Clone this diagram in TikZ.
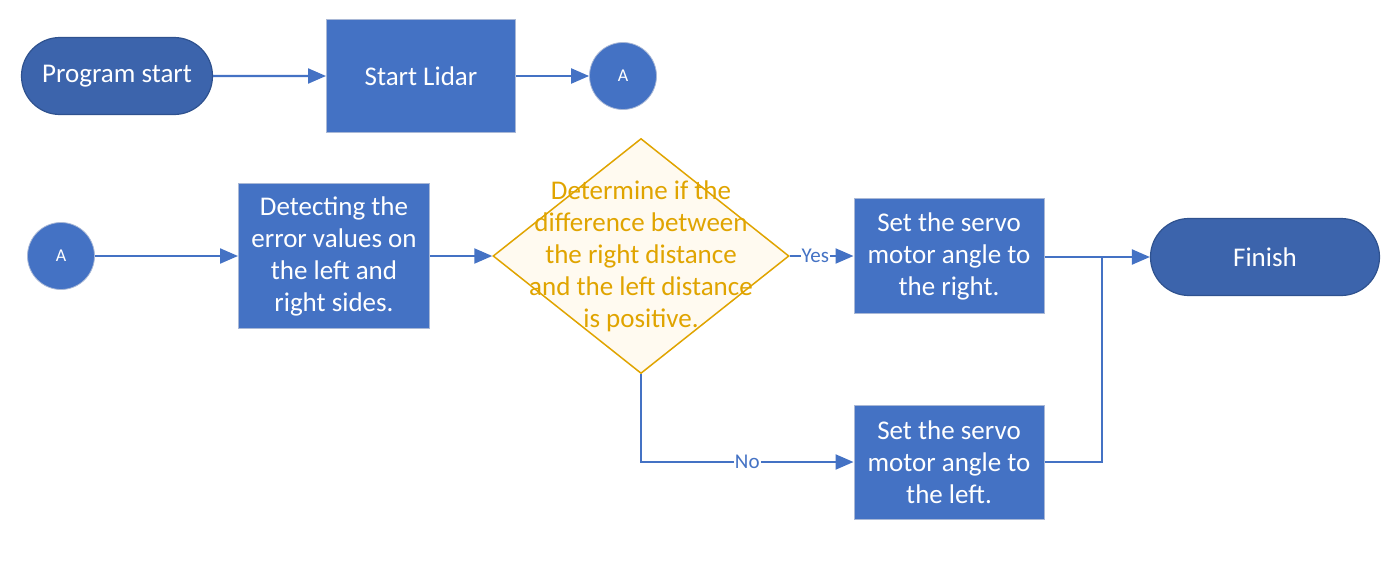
\documentclass[tikz,border=0pt]{standalone}
\usepackage{fontspec}
\setmainfont{Carlito}
\usetikzlibrary{shapes.geometric,shapes.misc,arrows.meta}
\definecolor{boxblue}{HTML}{4472C4}
\definecolor{termblue}{HTML}{3C64AC}
\definecolor{termedge}{HTML}{2F528F}
\definecolor{boxedge}{HTML}{A9B8D6}
\definecolor{gold}{HTML}{E0A400}
\definecolor{cream}{HTML}{FFFAF0}
\tikzset{
  terminal/.style={rounded rectangle, fill=termblue, draw=termedge, line width=1.2pt, text=white, font=\fontsize{27}{32}\selectfont, inner sep=0pt},
  procbox/.style={rectangle, fill=boxblue, draw=boxedge, line width=1pt, text=white, align=center, font=\fontsize{27}{32}\selectfont, inner sep=0pt},
  conn/.style={circle, fill=boxblue, draw=boxedge, line width=0.8pt, text=white, font=\fontsize{18}{20}\selectfont, inner sep=0pt, minimum size=67pt},
  decision/.style={diamond, aspect=1.26, fill=cream, draw=gold, line width=1.5pt, inner sep=0pt},
  dectxt/.style={text=gold, align=center, font=\fontsize{27}{32}\selectfont, inner sep=0pt},
  flow/.style={draw=boxblue, line width=2.2pt, -{Triangle[length=18pt,width=15pt]}},
  plain/.style={draw=boxblue, line width=2.2pt},
  lbl/.style={fill=white, text=boxblue, font=\fontsize{21}{24}\selectfont, inner sep=1pt}
}
\begin{document}
\begin{tikzpicture}[x=1pt,y=-1pt]
\useasboundingbox (0,0) rectangle (1387,573);
\node[terminal, minimum width=191pt, minimum height=77pt] (start) at (117,76) {\raisebox{-2pt}{Program start}};
\node[procbox, minimum width=189pt, minimum height=113pt] (lidar) at (421,76) {Start Lidar};
\node[conn] (A1) at (623,76) {A};
\node[conn] (A2) at (61,256) {A};
\node[procbox, minimum width=191pt, minimum height=145pt] (detect) at (334,256) {Detecting the\\error values on\\the left and\\right sides.};
\node[decision, minimum width=296pt, minimum height=235pt] (dec) at (641,256) {};
\node[dectxt] (dectext) at (641,256) {Determine if the\\difference between\\the right distance\\and the left distance\\is positive.};
\node[procbox, minimum width=190pt, minimum height=115pt] (right) at (949,256) {Set the servo\\motor angle to\\the right.};
\node[procbox, minimum width=190pt, minimum height=114pt] (left) at (949,462) {Set the servo\\motor angle to\\the left.};
\node[terminal, minimum width=229pt, minimum height=77pt] (finish) at (1265,257) {Finish};
\coordinate (junc) at (1102,257);
\draw[flow] (start) -- (lidar);
\draw[flow] (lidar) -- (A1);
\draw[flow] (A2) -- (detect);
\draw[flow] (detect) -- (dec.west);
\draw[flow] (dec.east) -- node[lbl, pos=0.4] {Yes} (right.west);
\draw[flow] (dec.south) |- node[lbl, pos=0.75] {No} (left.west);
\draw[flow] (right.east |- junc) -- (finish.west);
\draw[plain] (left.east) -| (junc);
\end{tikzpicture}
\end{document}
